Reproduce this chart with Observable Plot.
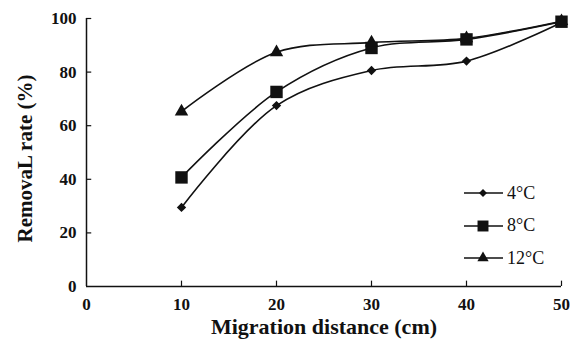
<!DOCTYPE html>
<html><head><meta charset="utf-8">
<script src="https://cdn.jsdelivr.net/npm/d3@7"></script>
<script src="https://cdn.jsdelivr.net/npm/@observablehq/plot@0.6"></script>
<style>
body{margin:0;background:#fff;}
#wrap{position:relative;width:577px;height:345px;font-family:'Liberation Serif';}
#legend{position:absolute;left:464px;top:177px;font-family:'Liberation Serif';font-size:18px;color:#111;}
#legend div{height:32.5px;display:flex;align-items:center;}
#chart svg, #chart svg text{font-family:'Liberation Serif' !important;}
</style>
</head><body>
<div id="wrap"><div id="chart"></div><div id="legend"></div></div>
<script>
const distances = [10, 20, 30, 40, 50];
const series = ["4°C", "8°C", "12°C"];
const rate4 = [29.5, 67.5, 80.6, 84.1, 98.5];
const rate8 = [40.7, 72.6, 89.0, 92.2, 98.8];
const rate12 = [65.3, 87.4, 91.0, 92.6, 99.0];
const xTicks = [0, 10, 20, 30, 40, 50];
const yTicks = [0, 20, 40, 60, 80, 100];
const symbols = {"4°C": "diamond2", "8°C": "square", "12°C": "triangle"};
const radii = {"4°C": 4.2, "8°C": 7, "12°C": 5};

const values = [rate4, rate8, rate12];
const data = [];
series.forEach((s, i) => distances.forEach((d, j) => data.push({series: s, x: d, y: values[i][j]})));

const FF = "Liberation Serif";
const plot = Plot.plot({
  width: 577, height: 345,
  marginLeft: 86, marginRight: 16, marginTop: 18, marginBottom: 59,
  style: {fontFamily: FF, fontSize: "17px", color: "#111"},
  x: {domain: [0, 50], ticks: xTicks, label: null},
  y: {domain: [0, 100], ticks: yTicks, label: null},
  marks: [
    Plot.ruleY([0], {stroke: "#111", strokeWidth: 1.5}),
    Plot.ruleX([0], {stroke: "#111", strokeWidth: 1.5}),
    Plot.ruleX(xTicks.slice(1), {x: d => d, y1: 0, y2: 2, stroke: "#111", strokeWidth: 1.2}),
    Plot.ruleY(yTicks.slice(1), {y: d => d, x1: 0, x2: 0.55, stroke: "#111", strokeWidth: 1.2}),
    Plot.axisX({ticks: xTicks, tickSize: 0, tickPadding: 11, fontSize: 17, fontWeight: "bold", fontFamily: FF, label: null}),
    Plot.axisY({ticks: yTicks, tickSize: 0, tickPadding: 10, fontSize: 17, fontWeight: "bold", fontFamily: FF, label: null}),
    Plot.line(data, {x: "x", y: "y", z: "series", curve: "catmull-rom", stroke: "#111", strokeWidth: 1.6}),
    ...series.map(s => Plot.dot(data.filter(d => d.series === s), {x: "x", y: "y", symbol: () => symbols[s], r: radii[s], fill: "#111", stroke: "none"})),
    Plot.text(["Migration distance (cm)"], {frameAnchor: "bottom", dy: 47, text: d => d, fontSize: 22, fontWeight: "bold", fontFamily: FF}),
    Plot.text(["RemovaL rate (%)"], {frameAnchor: "left", dx: -61, dy: 6, rotate: -90, textAnchor: "middle", text: d => d, fontSize: 21, fontWeight: "bold", fontFamily: FF})
  ]
});
document.getElementById("chart").appendChild(plot);

const legend = document.getElementById("legend");
series.forEach(s => {
  const row = document.createElement("div");
  const svg = d3.create("svg").attr("width", 43).attr("height", 20);
  svg.append("line").attr("x1", 0).attr("x2", 39).attr("y1", 10).attr("y2", 10).attr("stroke", "#111").attr("stroke-width", 1.6);
  const sym = {"diamond2": d3.symbolDiamond2, "square": d3.symbolSquare, "triangle": d3.symbolTriangle}[symbols[s]];
  const size = s === "8°C" ? 120 : (s === "4°C" ? 40 : 55);
  svg.append("path").attr("transform", "translate(19,10)").attr("d", d3.symbol(sym, size)()).attr("fill", "#111");
  row.appendChild(svg.node());
  const t = document.createElement("span");
  t.textContent = s;
  row.appendChild(t);
  legend.appendChild(row);
});
</script>
</body></html>
